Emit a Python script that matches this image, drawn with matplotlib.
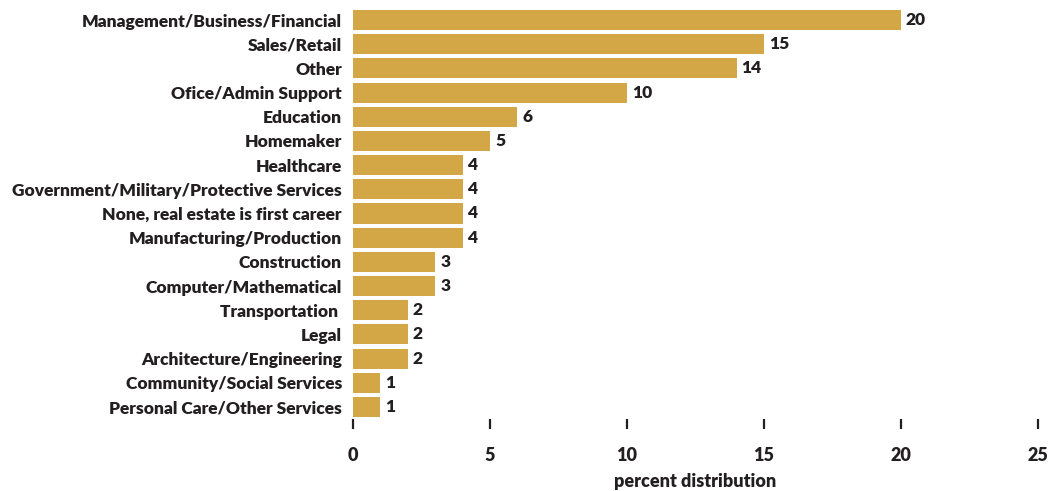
import matplotlib
matplotlib.use("Agg")
import matplotlib.pyplot as plt

categories = [
    "Management/Business/Financial",
    "Sales/Retail",
    "Other",
    "Ofice/Admin Support",
    "Education",
    "Homemaker",
    "Healthcare",
    "Government/Military/Protective Services",
    "None, real estate is first career",
    "Manufacturing/Production",
    "Construction",
    "Computer/Mathematical",
    "Transportation ",
    "Legal",
    "Architecture/Engineering",
    "Community/Social Services",
    "Personal Care/Other Services",
]
values = [20, 15, 14, 10, 6, 5, 4, 4, 4, 4, 3, 3, 2, 2, 2, 1, 1]
xticks = [0, 5, 10, 15, 20, 25]
xlabel = "percent distribution"

plt.rcParams['font.family'] = ['Lato', 'DejaVu Sans']
TEXT = "#231f20"
BAR = "#d4a746"
WEIGHT = "heavy"

W, H = 1049, 491
fig = plt.figure(figsize=(W / 100, H / 100), dpi=100)
ax = fig.add_axes([353 / W, 1 - 419 / H, (1038 - 353) / W, (419 - 8) / H])

ypos = list(range(len(categories)))
ax.barh(ypos, values, height=0.83, color=BAR)
for y, v in zip(ypos, values):
    ax.text(v + 0.18, y, f"{v}", va="center", ha="left", fontsize=12.5,
            fontweight=WEIGHT, color=TEXT)

ax.set_ylim(len(categories) - 0.5, -0.5)
ax.set_xlim(0, 25)
ax.set_yticks(ypos)
ax.set_yticklabels(categories, fontsize=12.5, fontweight=WEIGHT, color=TEXT)
ax.tick_params(axis="y", length=0, pad=8)
ax.set_xticks(xticks)
ax.set_xticklabels([str(t) for t in xticks], fontsize=13, fontweight=WEIGHT, color=TEXT)
ax.tick_params(axis="x", length=7.5, width=1.6, color=TEXT, pad=13, direction="out")
for s in ax.spines.values():
    s.set_visible(False)
ax.set_xlabel(xlabel, fontsize=13, fontweight=WEIGHT, color=TEXT, labelpad=6.5)

fig.savefig("out.png", dpi=100)
